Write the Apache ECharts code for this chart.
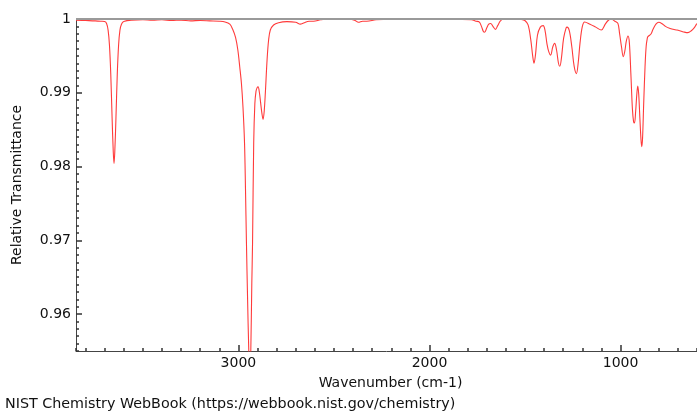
<!DOCTYPE html>
<html>
<head>
<meta charset="utf-8">
<script src="https://cdn.jsdelivr.net/npm/echarts@6/dist/echarts.min.js"></script>
<style>
  html, body { margin: 0; padding: 0; background: #fff; }
  #chart { width: 697px; height: 416px; }
</style>
</head>
<body>
<div id="chart"></div>
<script>
// IR spectrum (wavenumber in cm-1, relative transmittance)
var wavenumber = [
  3850, 3800, 3750, 3720, 3700, 3690, 3682, 3675, 3668, 3661, 3655, 3651, 3647, 3641, 3634, 3627, 3620, 3612, 3600,
  3560, 3500, 3450, 3400, 3350, 3300, 3250, 3200, 3150, 3100, 3070, 3045, 3030, 3015, 3003, 2993, 2984, 2976,
  2968, 2963, 2958, 2952, 2946, 2940, 2935, 2930, 2926, 2920, 2914, 2908, 2902, 2897, 2890, 2884, 2877, 2871,
  2865, 2859, 2850, 2842, 2833, 2816, 2790, 2746, 2700, 2676, 2659, 2630, 2607, 2570, 2537, 2470, 2424, 2390,
  2372, 2350, 2328, 2280, 2224, 2150, 2050, 1950, 1850, 1780, 1757, 1740, 1728, 1718, 1712, 1700, 1690, 1680,
  1668, 1655, 1643, 1630, 1615, 1560, 1520, 1501, 1484, 1470, 1460, 1453, 1445, 1435, 1420, 1405, 1395, 1385,
  1375, 1366, 1355, 1345, 1335, 1325, 1318, 1310, 1298, 1285, 1280, 1268, 1255, 1243, 1231, 1222, 1212, 1200,
  1188, 1160, 1130, 1101, 1080, 1065, 1049, 1030, 1014, 1005, 995, 986, 978, 970, 961, 954, 946, 938, 932, 927,
  921, 915, 910, 905, 899, 893, 889, 885, 879, 872, 866, 860, 857, 848, 840, 830, 815, 800, 785, 765, 744, 725,
  705, 690, 670, 648, 630, 615, 605, 600
];
var transmittance = [
  0.99985, 0.9998, 0.99975, 0.9997, 0.99965, 0.9994, 0.9985, 0.9965, 0.9925, 0.9865, 0.982, 0.9804, 0.982, 0.9865, 0.9925, 0.9965, 0.9985, 0.9993, 0.99965,
  0.99985, 0.9999, 0.99985, 0.9999, 0.9998, 0.99985, 0.99975, 0.9998, 0.99975, 0.9997, 0.9996, 0.9993, 0.9986, 0.9975, 0.9958, 0.9935, 0.9912, 0.988,
  0.9832, 0.977, 0.9697, 0.962, 0.9553, 0.951, 0.9553, 0.964, 0.9697, 0.9832, 0.9885, 0.9902, 0.9907, 0.9908, 0.9900, 0.9887, 0.9872, 0.9864,
  0.9875, 0.9900, 0.99446, 0.99716, 0.99851, 0.99919, 0.9995, 0.99964, 0.99955, 0.9993, 0.99945, 0.9997, 0.9997, 0.9999, 1.0, 1.0, 1.0, 0.9998,
  0.99955, 0.9997, 0.9997, 0.9999, 0.99995, 1.0, 1.0, 1.0, 0.99995, 0.9999, 0.9997, 0.9996, 0.9990, 0.9983, 0.9982, 0.9988, 0.9993, 0.9994,
  0.9990, 0.9986, 0.9991, 0.9997, 1.0, 1.0, 0.99995, 0.9998, 0.9992, 0.9972, 0.9950, 0.9940, 0.9952, 0.9978, 0.9989, 0.9991, 0.9984, 0.9966,
  0.9955, 0.9951, 0.9962, 0.9967, 0.9958, 0.9940, 0.9936, 0.9946, 0.9974, 0.9988, 0.9989, 0.9984, 0.9962, 0.9936, 0.9926, 0.9940, 0.9968, 0.9990,
  0.9996, 0.9993, 0.9989, 0.9985, 0.9993, 0.9998, 1.0, 0.9997, 0.9994, 0.9980, 0.9962, 0.9949, 0.9956, 0.9970, 0.9977, 0.9968, 0.9925, 0.9878, 0.9861, 0.9859,
  0.9875, 0.9898, 0.9909, 0.9898, 0.9866, 0.9836, 0.9827, 0.9838, 0.9885, 0.9935, 0.9963, 0.9974, 0.9976, 0.9978, 0.998, 0.9986, 0.9993, 0.99955, 0.9994, 0.9990, 0.99874, 0.9986,
  0.9985, 0.9984, 0.99825, 0.99815, 0.9984, 0.9988, 0.9992, 0.9994
];
var xLabels = [1000, 2000, 3000];
var yLabels = [0.96, 0.97, 0.98, 0.99, 1];

var FONT = "DejaVu Sans";
var TICK = { color: "#333", width: 1.5 };

var spectrum = wavenumber.map(function (w, i) {
  return [w, transmittance[i]];
});

var chart = echarts.init(document.getElementById("chart"));

var option = {
  animation: false,
  grid: { left: 76, right: 0, top: 19, bottom: 65 },
  xAxis: [
    {
      // labels + long ticks
      type: "value",
      position: "bottom",
      inverse: true,
      min: 600,
      max: 3850,
      splitNumber: 3,
      axisLine: { show: true, onZero: false, lineStyle: { color: "#444", width: 1 } },
      axisTick: { show: true, inside: true, length: 6, lineStyle: TICK },
      axisLabel: {
        showMinLabel: false,
        showMaxLabel: false,
        margin: 5,
        color: "#111",
        fontSize: 14,
        fontFamily: FONT,
        formatter: function (v) {
          return xLabels.indexOf(v) >= 0 ? String(v) : "";
        }
      },
      splitLine: { show: false },
      name: "Wavenumber (cm-1)",
      nameLocation: "middle",
      nameGap: 25,
      nameTextStyle: { color: "#111", fontSize: 14, fontFamily: FONT, padding: [0, 0, 0, 8] }
    },
    {
      // short ticks every 100
      type: "value",
      position: "bottom",
      inverse: true,
      min: 600,
      max: 3850,
      interval: 100,
      axisLine: { show: false, onZero: false },
      axisTick: { show: true, inside: true, length: 3, lineStyle: TICK },
      axisLabel: { show: false },
      splitLine: { show: false }
    }
  ],
  yAxis: [
    {
      type: "value",
      position: "left",
      min: 0.955,
      max: 1,
      splitNumber: 5,
      axisLine: { show: true, onZero: false, lineStyle: { color: "#444", width: 1 } },
      axisTick: { show: true, inside: true, length: 6, lineStyle: TICK },
      axisLabel: {
        showMinLabel: false,
        margin: 5,
        color: "#111",
        fontSize: 14,
        fontFamily: FONT,
        formatter: function (v) {
          var r = Math.round(v * 100) / 100;
          return yLabels.indexOf(r) >= 0 && Math.abs(r - v) < 1e-6 ? String(r) : "";
        }
      },
      splitLine: { show: false }
    },
    {
      type: "value",
      position: "left",
      min: 0.955,
      max: 1,
      interval: 0.001,
      axisLine: { show: false, onZero: false },
      axisTick: { show: true, inside: true, length: 3, lineStyle: TICK },
      axisLabel: { show: false },
      splitLine: { show: false }
    }
  ],
  graphic: [
    {
      type: "text",
      x: 17,
      y: 185,
      rotation: Math.PI / 2,
      style: {
        text: "Relative Transmittance",
        font: "14px " + FONT,
        fill: "#111",
        align: "center",
        verticalAlign: "middle"
      }
    },
    {
      type: "text",
      left: 5,
      top: 397,
      style: {
        text: "NIST Chemistry WebBook (https://webbook.nist.gov/chemistry)",
        font: "14.3px " + FONT,
        fill: "#111"
      }
    }
  ],
  series: [
    {
      type: "line",
      xAxisIndex: 0,
      yAxisIndex: 0,
      data: spectrum,
      showSymbol: false,
      smooth: 0.35,
      lineStyle: { color: "#ff3b3b", width: 1.1 },
      markLine: {
        silent: true,
        symbol: "none",
        label: { show: false },
        lineStyle: { color: "#9a9a9a", width: 2, type: "solid" },
        data: [{ yAxis: 1 }]
      }
    }
  ]
};

chart.setOption(option);

window.onresize = function () {
  chart.resize();
};
</script>
</body>
</html>
